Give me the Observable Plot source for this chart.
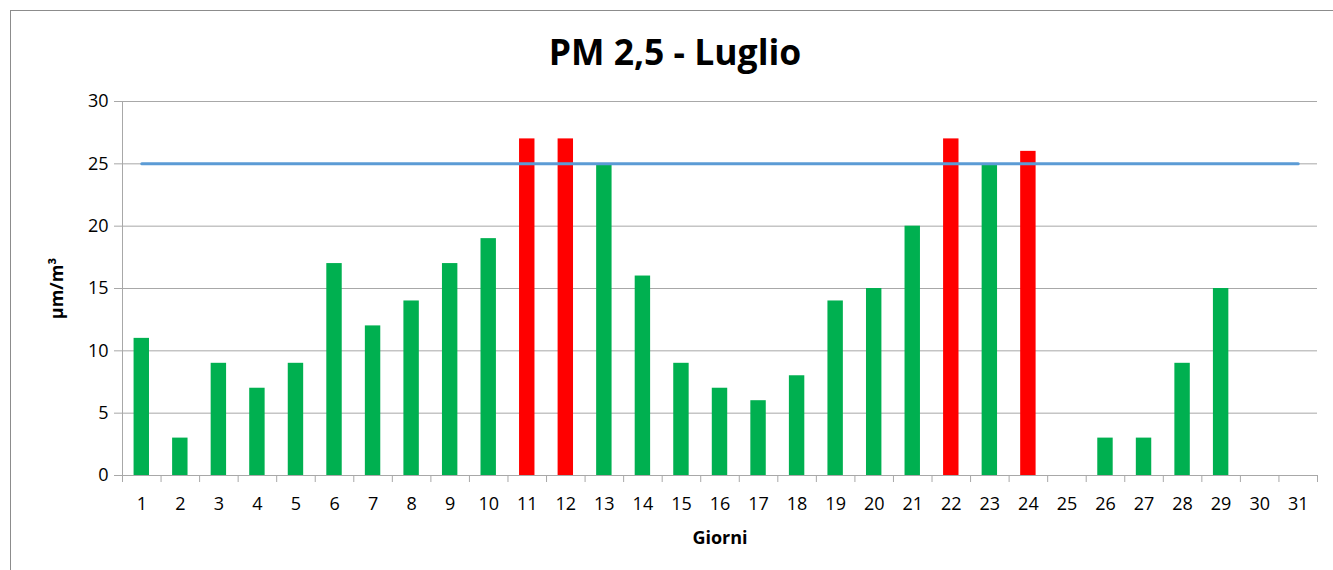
<!DOCTYPE html>
<html>
<head>
<meta charset="utf-8">
<script src="https://cdn.jsdelivr.net/npm/d3@7"></script>
<script src="https://cdn.jsdelivr.net/npm/@observablehq/plot@0.6"></script>
<style>
  html, body { margin: 0; padding: 0; background: #fff; overflow: hidden; }
  #wrap { position: relative; width: 1333px; height: 570px; overflow: hidden; font-family: "Open Sans", sans-serif; }
  #frame { position: absolute; left: 10px; top: 10px; width: 1400px; height: 700px; border-left: 1px solid #8c8c8c; border-top: 1px solid #8c8c8c; box-sizing: border-box; }
  #title { position: absolute; left: 0; top: 27px; width: 1350px; text-align: center; font-weight: bold; font-size: 35.5px; color: #000; }
  #chart { position: absolute; left: 0; top: 0; }
</style>
</head>
<body>
<div id="wrap">
  <div id="frame"></div>
  <div id="title">PM 2,5 - Luglio</div>
  <div id="chart"></div>
</div>
<script>
const days = d3.range(1, 32);
// PM2.5 daily values (null = no data)
const values = [11, 3, 9, 7, 9, 17, 12, 14, 17, 19, 27, 27, 25, 16, 9, 7, 6, 8, 14, 15, 20, 27, 25, 26, null, 3, 3, 9, 15, null, null];
const limit = 25;
const yTicks = [0, 5, 10, 15, 20, 25, 30];

const data = days.map((d, i) => ({day: d, value: values[i]})).filter(d => d.value != null);
const boundaries = days.map(d => d - 0.5).concat([31.5]);
const limitLine = days.map(d => ({day: d, value: limit}));

const chart = Plot.plot({
  width: 1333,
  height: 570,
  marginLeft: 122,
  marginRight: 16,
  marginTop: 101,
  marginBottom: 95,
  style: {fontFamily: "Open Sans, sans-serif", fontSize: "17px", color: "#000", background: "transparent"},
  x: {domain: [0.5, 31.5]},
  y: {domain: [0, 30]},
  marks: [
    Plot.gridY(yTicks, {stroke: "#a8a8a8", strokeOpacity: 1, strokeWidth: 1}),
    Plot.axisY({ticks: yTicks, tickSize: 8, tickPadding: 6, stroke: "#a8a8a8", fill: "#000", fontSize: 18,
      label: "µm/m³", labelAnchor: "center", labelArrow: "none", labelOffset: 72}),
    Plot.axisX({ticks: boundaries, tickSize: 7, tickFormat: () => "", stroke: "#a8a8a8", label: null}),
    Plot.axisX({ticks: days, tickSize: 0, tickPadding: 22, fill: "#000", fontSize: 18, tickFormat: d3.format("d"),
      label: "Giorni", labelAnchor: "center", labelArrow: "none", labelOffset: 68}),
    Plot.ruleX([0.5], {stroke: "#a8a8a8"}),
    Plot.ruleY([0], {stroke: "#a8a8a8"}),
    Plot.rectY(data, {
      x1: d => d.day - 0.2,
      x2: d => d.day + 0.2,
      y: "value",
      fill: d => d.value > limit ? "#FF0000" : "#00B050"
    }),
    Plot.lineY(limitLine, {x: "day", y: "value", stroke: "#5B9BD5", strokeWidth: 3})
  ]
});
chart.querySelectorAll('[aria-label="y-axis label"] text, [aria-label="x-axis label"] text').forEach(t => {
  t.style.fontWeight = "bold";
  t.style.fontSize = "18px";
});
document.getElementById("chart").appendChild(chart);
</script>
</body>
</html>
